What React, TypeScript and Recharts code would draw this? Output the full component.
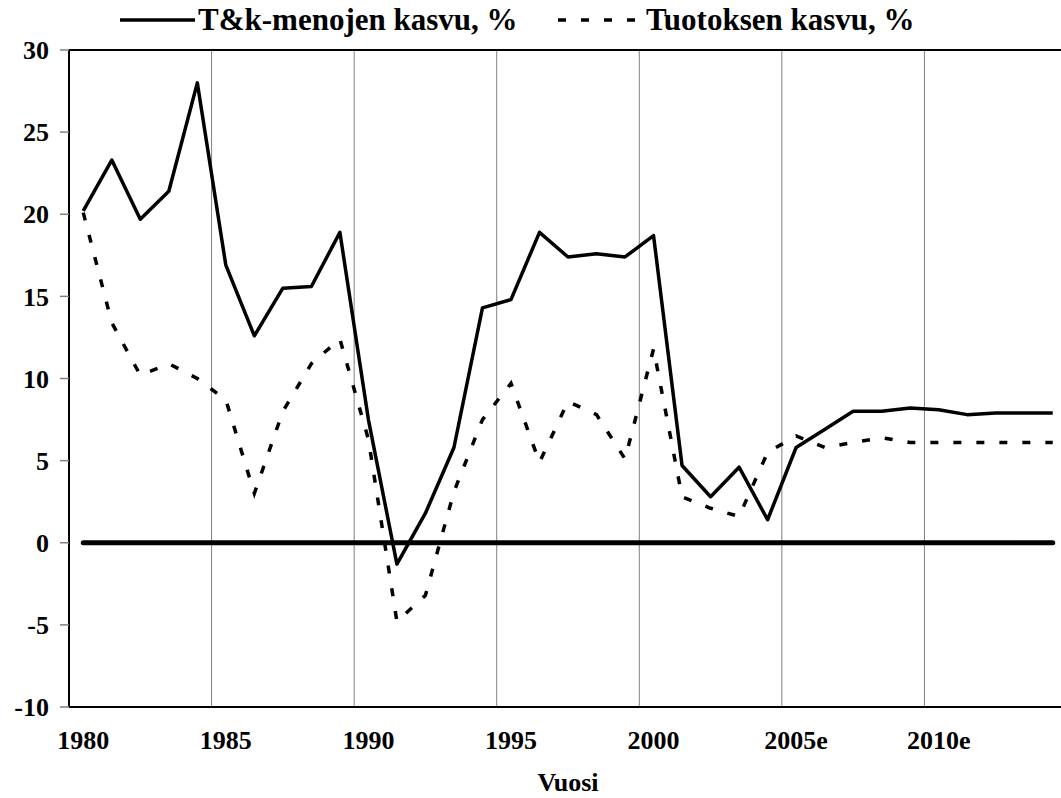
import React from "react";
import {
  LineChart,
  Line,
  XAxis,
  YAxis,
  ReferenceLine,
} from "recharts";

// ── data ──
const years = [
  1980, 1981, 1982, 1983, 1984, 1985, 1986, 1987, 1988, 1989,
  1990, 1991, 1992, 1993, 1994, 1995, 1996, 1997, 1998, 1999,
  2000, 2001, 2002, 2003, 2004, 2005, 2006, 2007, 2008, 2009,
  2010, 2011, 2012, 2013, 2014,
];

// T&k-menojen kasvu, %
const rdGrowth = [
  20.2, 23.3, 19.7, 21.4, 28.0, 16.9, 12.6, 15.5, 15.6, 18.9,
  7.5, -1.3, 1.8, 5.8, 14.3, 14.8, 18.9, 17.4, 17.6, 17.4,
  18.7, 4.7, 2.8, 4.6, 1.4, 5.8, 6.9, 8.0, 8.0, 8.2,
  8.1, 7.8, 7.9, 7.9, 7.9,
];

// Tuotoksen kasvu, %
const outputGrowth = [
  20.1, 13.4, 10.2, 10.9, 10.0, 8.7, 3.0, 8.0, 10.9, 12.4,
  6.3, -4.8, -3.2, 3.1, 7.5, 9.7, 4.9, 8.6, 7.8, 5.1,
  11.8, 2.8, 2.1, 1.6, 5.5, 6.5, 5.8, 6.1, 6.4, 6.1,
  6.1, 6.1, 6.1, 6.1, 6.1,
];

const xTickYears = [1980, 1985, 1990, 1995, 2000, 2005, 2010];
const xTickLabels = ["1980", "1985", "1990", "1995", "2000", "2005e", "2010e"];
const yTicks = [-10, -5, 0, 5, 10, 15, 20, 25, 30];

const seriesNames = ["T&k-menojen kasvu, %", "Tuotoksen kasvu, %"];

const data = years.map((year, i) => ({
  year,
  rd: rdGrowth[i],
  output: outputGrowth[i],
}));

// grid sits on the category boundary before each labelled year
const gridYears = xTickYears.slice(1).map((y) => y - 0.5);

const FONT =
  "Liberation Serif, Times New Roman, Times, Nimbus Roman, FreeSerif, serif";
const DASH = "8 15";

function LegendBar() {
  const textStyle: React.CSSProperties = {
    position: "absolute",
    top: 1,
    fontFamily: FONT,
    fontWeight: "bold",
    fontSize: 31,
    lineHeight: "38px",
    whiteSpace: "nowrap",
    color: "#000",
  };
  return (
    <>
      <svg
        width={1061}
        height={40}
        style={{ position: "absolute", left: 0, top: 0 }}
      >
        <line x1={120} y1={20} x2={195} y2={20} stroke="#000" strokeWidth={3.5} />
        <line
          x1={558}
          y1={20}
          x2={641}
          y2={20}
          stroke="#000"
          strokeWidth={3.5}
          strokeDasharray={DASH}
        />
      </svg>
      <div style={{ ...textStyle, left: 198 }}>{seriesNames[0]}</div>
      <div style={{ ...textStyle, left: 646 }}>{seriesNames[1]}</div>
    </>
  );
}

export default function App() {
  const tickStyle = {
    fontFamily: FONT,
    fontWeight: "bold",
    fontSize: 26,
    fill: "#000",
  };

  return (
    <div
      style={{
        position: "absolute",
        left: 0,
        top: 0,
        width: 1061,
        height: 798,
        overflow: "hidden",
        background: "#fff",
      }}
    >
      <LineChart
        width={1080}
        height={798}
        data={data}
        margin={{ top: 50, right: 13, left: 0, bottom: 0 }}
      >
        <XAxis
          dataKey="year"
          type="number"
          domain={[1979.5, 2014.5]}
          ticks={xTickYears}
          tickFormatter={(v: number) => xTickLabels[xTickYears.indexOf(v)] ?? ""}
          interval={0}
          tick={tickStyle}
          tickLine={false}
          tickSize={0}
          tickMargin={24}
          axisLine={{ stroke: "#000", strokeWidth: 2 }}
          height={91}
          label={{
            value: "Vuosi",
            position: "insideBottom",
            offset: 7,
            style: { ...tickStyle, fontSize: 26 },
          }}
        />
        <YAxis
          type="number"
          domain={[-10, 30]}
          ticks={yTicks}
          interval={0}
          width={69}
          tick={tickStyle}
          tickSize={9}
          tickMargin={11}
          tickLine={{ stroke: "#808080", strokeWidth: 1.5 }}
          axisLine={{ stroke: "#000", strokeWidth: 2 }}
        />
        {gridYears.map((g) => (
          <ReferenceLine key={g} x={g} stroke="#808080" strokeWidth={1} />
        ))}
        <ReferenceLine y={30} stroke="#000" strokeWidth={2} />
        <ReferenceLine
          segment={[
            { x: years[0], y: 0 },
            { x: years[years.length - 1], y: 0 },
          ]}
          stroke="#000"
          strokeWidth={5}
          strokeLinecap="round"
        />
        <Line
          dataKey="output"
          name={seriesNames[1]}
          stroke="#000"
          strokeWidth={3.5}
          strokeDasharray={DASH}
          dot={false}
          activeDot={false}
          isAnimationActive={false}
        />
        <Line
          dataKey="rd"
          name={seriesNames[0]}
          stroke="#000"
          strokeWidth={3.5}
          strokeLinejoin="round"
          dot={false}
          activeDot={false}
          isAnimationActive={false}
        />
      </LineChart>
      <LegendBar />
    </div>
  );
}
